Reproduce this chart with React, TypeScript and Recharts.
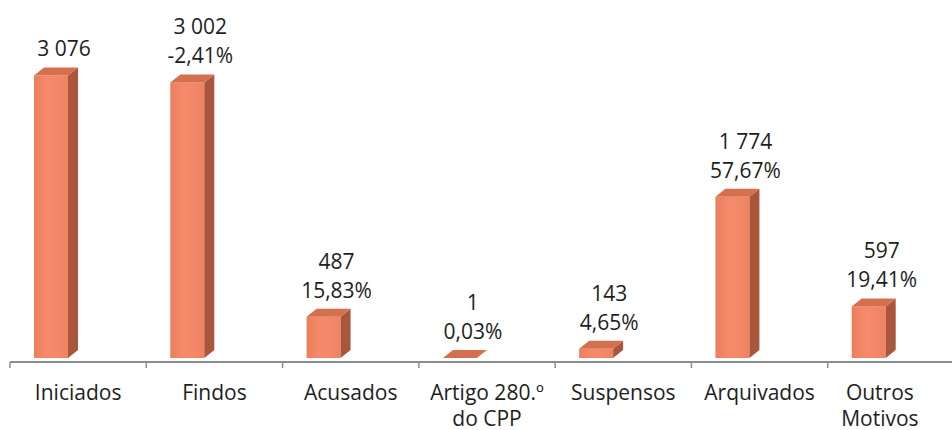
import { BarChart, Bar, XAxis, YAxis, LabelList } from 'recharts';

// categories and values
const categories = [
  'Iniciados',
  'Findos',
  'Acusados',
  'Artigo 280.º\ndo CPP',
  'Suspensos',
  'Arquivados',
  'Outros\nMotivos',
];
const processCounts = [3076, 3002, 487, 1, 143, 1774, 597];
const pctLabels = ['', '-2,41%', '15,83%', '0,03%', '4,65%', '57,67%', '19,41%'];

const data = categories.map((name, i) => ({ name, count: processCounts[i], pct: pctLabels[i] }));

const CHART_W = 966;
const CHART_H = 430;
const MARGIN = { top: 36, right: 2, left: 10, bottom: 0 };
const BAND = (CHART_W - MARGIN.left - MARGIN.right) / categories.length;

// 3d box look
const FRONT = 34;
const DX = 10;
const DY = 8;
const FLOOR = 4;

const FONT = '"Open Sans", sans-serif';
const FONT_SIZE = 21;
const TEXT = '#1e1e1e';

const fmtCount = (n: number) => String(n).replace(/\B(?=(\d{3})+(?!\d))/g, ' ');

const boxGeom = (x: number, y: number, width: number, height: number) => {
  const cx = x + width / 2;
  const base = y + height - FLOOR;
  const top = Math.min(y, base);
  const left = cx - FRONT - DX;
  return { cx, base, top, left, right: left + FRONT };
};

const Box3D = (props: any) => {
  const { x, y, width, height } = props;
  const { base, top, left, right } = boxGeom(x, y, width, height);
  const hasBody = base - top > 0.5;
  return (
    <g>
      {hasBody && <rect x={left} y={top} width={FRONT} height={base - top} fill="url(#frontGrad)" />}
      {hasBody && (
        <polygon
          points={`${right},${top} ${right + DX},${top - DY} ${right + DX},${base - DY} ${right},${base}`}
          fill="#A9563B"
        />
      )}
      <polygon
        points={`${left},${top} ${left + DX},${top - DY} ${right + DX},${top - DY} ${right},${top}`}
        fill="#D4704E"
      />
    </g>
  );
};

const renderValueLabel = (props: any) => {
  const { x, y, width, height, index } = props;
  const { cx, top } = boxGeom(x, y, width, height);
  const lines = [fmtCount(processCounts[index])];
  if (pctLabels[index]) lines.push(pctLabels[index]);
  const tx = cx - 14;
  const lastBase = top - 19;
  return (
    <text x={tx} y={lastBase - (lines.length - 1) * 29} textAnchor="middle" fontFamily={FONT} fontSize={FONT_SIZE} fill={TEXT}>
      {lines.map((l, i) => (
        <tspan key={i} x={tx} dy={i === 0 ? 0 : 29}>
          {l}
        </tspan>
      ))}
    </text>
  );
};

const CategoryTick = (props: any) => {
  const { x, y, payload, index } = props;
  const lines = String(payload.value).split('\n');
  const bx = x - BAND / 2;
  const tx = index === categories.length - 1 ? x - 16 : x;
  return (
    <g>
      <line x1={bx} y1={y} x2={bx} y2={y + 6} stroke="#8c8c8c" strokeWidth={1.5} />
      <text x={tx} y={y + 38} textAnchor="middle" fontFamily={FONT} fontSize={FONT_SIZE} fill={TEXT}>
        {lines.map((l, i) => (
          <tspan key={i} x={tx} dy={i === 0 ? 0 : 26}>
            {l}
          </tspan>
        ))}
      </text>
    </g>
  );
};

export default function App() {
  return (
    <div style={{ position: 'absolute', left: 0, top: 0, width: 952, height: 430, overflow: 'hidden', background: '#fff' }}>
      <BarChart width={CHART_W} height={CHART_H} data={data} margin={MARGIN} barSize={40}>
        <defs>
          <linearGradient id="frontGrad" x1="0" y1="0" x2="1" y2="0">
            <stop offset="0%" stopColor="#EC7E5C" />
            <stop offset="45%" stopColor="#F68B6B" />
            <stop offset="100%" stopColor="#EF8262" />
          </linearGradient>
        </defs>
        <XAxis
          dataKey="name"
          interval={0}
          tickSize={0}
          tickMargin={0}
          tickLine={false}
          axisLine={{ stroke: '#8c8c8c', strokeWidth: 2 }}
          tick={<CategoryTick />}
          height={68}
        />
        <YAxis hide domain={[0, 3500]} />
        <Bar dataKey="count" shape={<Box3D />} isAnimationActive={false}>
          <LabelList dataKey="count" content={renderValueLabel} />
        </Bar>
      </BarChart>
    </div>
  );
}
